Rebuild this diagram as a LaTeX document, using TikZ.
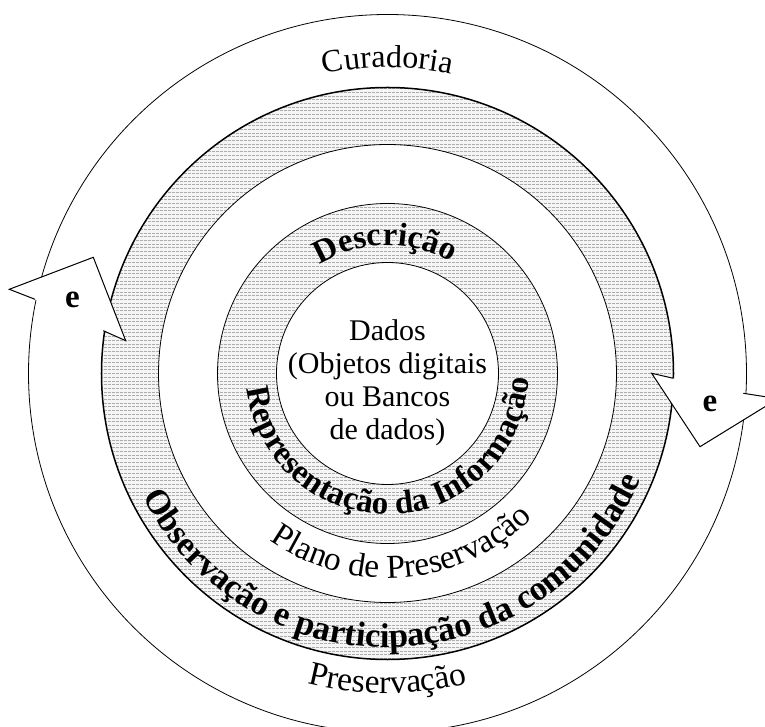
\documentclass[tikz,border=0pt]{standalone}
\usepackage{fontspec}
\setmainfont{Liberation Serif}
\usetikzlibrary{patterns,decorations.text}
\pgfdeclarepatternformonly{hdash}{\pgfqpoint{-0.1pt}{-0.1pt}}{\pgfqpoint{4.1pt}{3.8pt}}{\pgfqpoint{4pt}{3.7pt}}{%
  \pgfsetlinewidth{0.9pt}%
  \pgfpathmoveto{\pgfqpoint{0pt}{1.85pt}}\pgfpathlineto{\pgfqpoint{2.6pt}{1.85pt}}\pgfusepath{stroke}}
\newcommand\regf{\fontsize{32}{32}\selectfont}
\newcommand\regfb{\fontsize{33.5}{33.5}\selectfont}
\newcommand\boldf{\bfseries\fontsize{33}{33}\selectfont}
\newcommand\boldfb{\bfseries\fontsize{34.5}{34.5}\selectfont}
\begin{document}
\begin{tikzpicture}[x=1pt,y=1pt,
  ringline/.style={draw=black,line width=0.8pt},
  thickring/.style={draw=black,line width=1.5pt},
  bandbase/.style={fill=gray!8,even odd rule},
  bandpat/.style={pattern=hdash,pattern color=gray!65,even odd rule},
  headfill/.style={fill=white},
  headline/.style={draw=black,line width=1pt,line join=miter},
  elabel/.style={font=\boldf,inner sep=0pt},
  arctext/.style={decorate,decoration={text along path,text align=center,text={#1}}}]
\useasboundingbox (-387.5,-353.5) rectangle (377.5,373.5);
\clip (-387.5,-353.5) rectangle (377.5,373.5);
\fill[white] (-387.5,-353.5) rectangle (377.5,373.5);
\coordinate (O) at (0,0);
% bands
\path[bandbase] (O) circle[radius=286pt] (O) circle[radius=229pt];
\path[bandpat] (O) circle[radius=286pt] (O) circle[radius=229pt];
\path[bandbase] (O) circle[radius=170pt] (O) circle[radius=111pt];
\path[bandpat] (O) circle[radius=170pt] (O) circle[radius=111pt];
% circles
\draw[ringline] (O) circle[radius=359pt];
\draw[thickring] (O) circle[radius=286pt];
\draw[ringline] (O) circle[radius=229pt];
\draw[ringline] (O) circle[radius=170pt];
\draw[ringline] (O) circle[radius=111pt];
% left arrowhead
\coordinate (L1) at (-352.5,74.2);
\coordinate (L2) at (-378.2,84.2);
\coordinate (L3) at (-294.2,116.2);
\coordinate (L4) at (-261.8,32.8);
\coordinate (L5) at (-284.2,42.8);
\path[headfill] (L1)--(L2)--(L3)--(L4)--(L5)--cycle;
\draw[headline] (L1)--(L2)--(L3)--(L4)--(L5);
% right arrowhead
\coordinate (R1) at (355.8,-19.8);
\coordinate (R2) at (390.5,-25.2);
\coordinate (R3) at (312.5,-73.2);
\coordinate (R4) at (264.2,0.2);
\coordinate (R5) at (285.8,-4.8);
\path[headfill] (R1)--(R2)--(R3)--(R4)--(R5)--cycle;
\draw[headline] (R1)--(R2)--(R3)--(R4)--(R5);
\node[elabel] (eL) at (-315,74) {e};
\node[elabel] (eR) at (322.5,-30) {e};
% centre text
\node[align=center,font=\fontsize{30}{33}\selectfont,inner sep=0pt] (dados) at (0,-9)
  {Dados\\(Objetos digitais\\ou Bancos\\de dados)};
% curved texts
\path[arctext={|\regf|Curadoria}] (125:306pt) arc[start angle=125,end angle=55,radius=306pt];
\path[arctext={|\regfb|Preservação}] (225:320pt) arc[start angle=225,end angle=315,radius=320pt];
\path[arctext={|\boldfb|Observação e participação da comunidade}] (180:274pt) arc[start angle=180,end angle=364,radius=274pt];
\path[arctext={|\regfb|Plano de Preservação}] (215:204.5pt) arc[start angle=215,end angle=335,radius=204.5pt];
\path[arctext={|\boldf|Representação da Informação}] (168:141pt) arc[start angle=168,end angle=376,radius=141pt];
\path[arctext={|\boldf|Descrição}] (150:128pt) arc[start angle=150,end angle=32,radius=128pt];
\end{tikzpicture}
\end{document}
